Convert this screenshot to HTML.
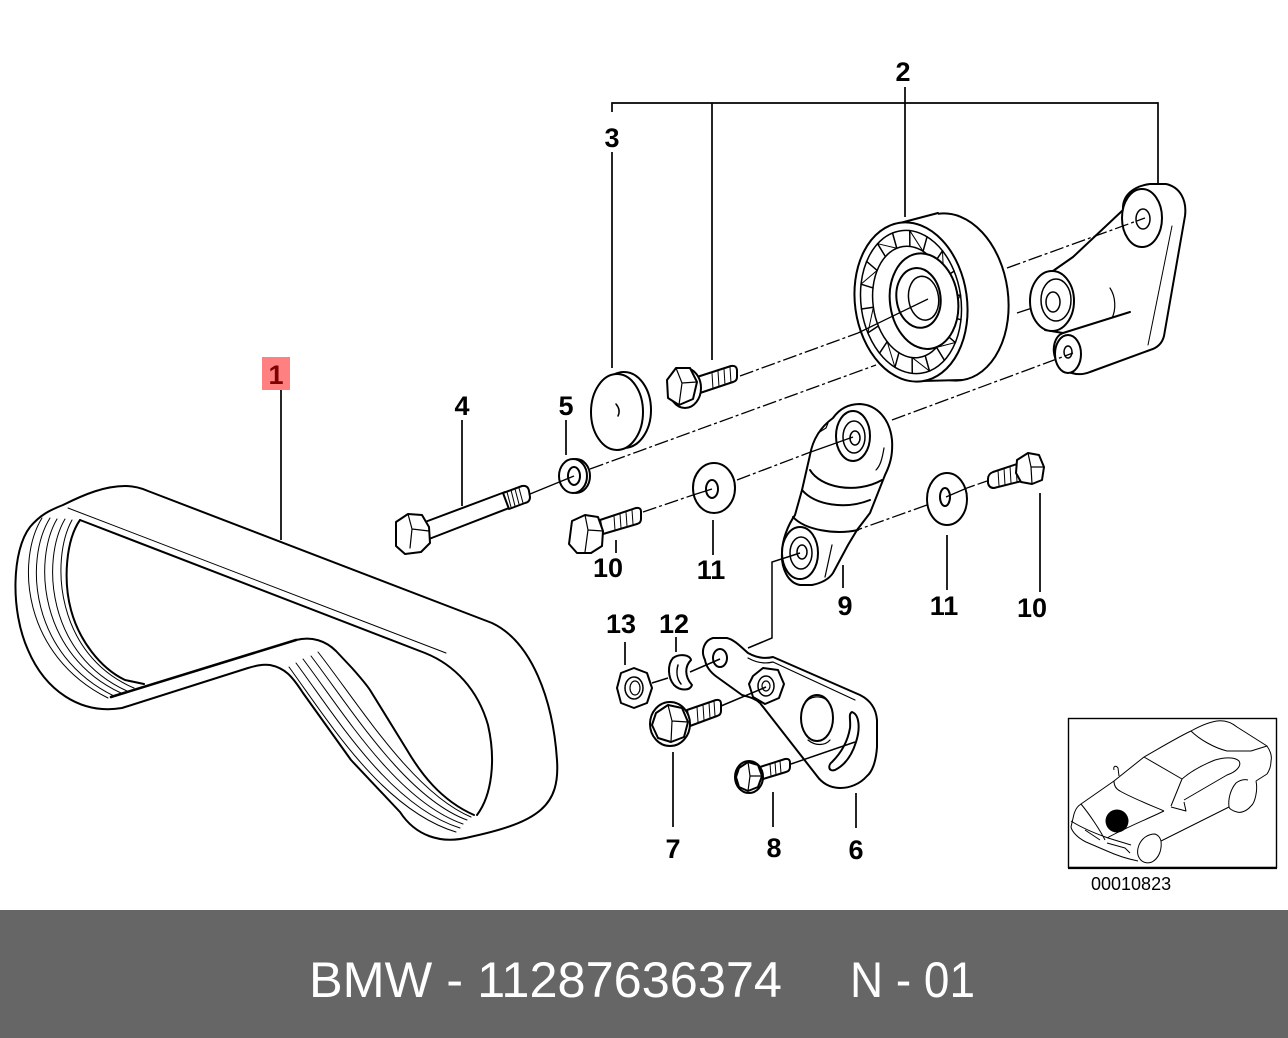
<!DOCTYPE html>
<html><head><meta charset="utf-8">
<style>
html,body{margin:0;padding:0;background:#fff;}
body{width:1288px;height:1038px;position:relative;overflow:hidden;}
svg{position:absolute;left:0;top:0;}
</style></head>
<body>
<svg width="1288" height="1038" viewBox="0 0 1288 1038" xmlns="http://www.w3.org/2000/svg">
<rect x="0" y="0" width="1288" height="910" fill="#fff"/>

<!-- ===== leader lines ===== -->
<g fill="none" stroke="#000" stroke-width="1.7">
  <path d="M612,112 V103 H1158 V183 M712,103 V360 M905,87 V217 M612,152 V368"/>
  <path d="M281,390 V540"/>
  <path d="M462,420 V506 M566,420 V455"/>
  <path d="M616,540 V553 M713,520 V555 M843,565 V588 M947,535 V590 M1040,493 V592"/>
  <path d="M625,642 V665 M676,637 V652 M673,752 V827 M773,792 V827 M856,793 V828"/>
</g>

<!-- ===== axis (dash-dot) lines behind parts ===== -->
<g fill="none" stroke="#000" stroke-width="1.3" stroke-dasharray="14 3 3 3">
  <path d="M590,469 L876,365"/>
  <path d="M1017,313 L1050,302"/>
  <path d="M927,505 L857,530"/>
</g>

<!-- ===== Belt (1) ===== -->
<g fill="#fff" stroke="#000" stroke-width="2" stroke-linejoin="round" stroke-linecap="round">
  <path d="M63,505 C85,494 105,486 125,486 C134,486 141,488 148,491 L492,623 C532,642 553,700 557,760 C560,805 540,822 470,837 C440,845 415,835 400,812 L351,760 L303,693 C292,676 285,668 270,665 C262,664 255,666 248,668 L122,708 C80,715 45,690 28,650 C10,610 12,550 30,527 C40,515 50,510 63,505 Z"/>
  <path fill="none" d="M80,520 L425,653 C455,665 478,690 488,725 C496,760 492,795 477,815"/>
  <path fill="none" stroke-width="1" d="M68,508 L446,653"/>
  <path fill="none" d="M80,520 C66,540 63,580 71,610 C79,640 100,668 125,680 L144,684"/>
  <path fill="none" stroke-width="2.6" d="M111,697 L296,640"/>
  <path fill="none" d="M296,640 C312,636 326,641 336,651 L352,668 C360,677 366,684 370,690 L407,750 C420,772 440,800 474,815"/>
  <g fill="none" stroke-width="1">
    <path d="M42,518 C16,560 22,655 108,698"/>
    <path d="M50,518 C24,560 30,655 114,696"/>
    <path d="M57,519 C33,560 39,655 121,693"/>
    <path d="M65,519 C41,560 47,655 127,691"/>
    <path d="M72,520 C50,560 56,655 134,688"/>
    <path d="M289,667 C329,722 383,810 456,832"/>
    <path d="M296,663 C336,717 390,806 460,828"/>
    <path d="M303,659 C343,712 397,801 463,824"/>
    <path d="M311,656 C350,707 405,797 467,820"/>
    <path d="M318,652 C358,703 413,793 471,817"/>
  </g>
</g>

<!-- ===== Parts ===== -->
<g fill="#fff" stroke="#000" stroke-width="2" stroke-linejoin="round" stroke-linecap="round">

  <!-- bolt 4 -->
  <path d="M425,522 L505,492 L509,508 L429,539 Z"/>
  <path d="M503,493 L522,486 Q528,485 529,491 L530,497 Q530,502 525,503 L509,509 Z"/>
  <path fill="none" stroke-width="1" d="M507,492 L511,507 M511,490 L515,506 M515,489 L519,504 M519,488 L523,503"/>
  <path d="M396,522 L408,514 L422,515 L429,527 L430,543 L421,552 L405,554 L396,546 Z"/>
  <path fill="none" stroke-width="1.2" d="M408,514 L412,529 L429,531 M412,529 L410,548"/>

  <!-- washer 5 -->
  <ellipse cx="576" cy="476" rx="14" ry="17"/>
  <ellipse cx="573" cy="476" rx="14" ry="17"/>
  <ellipse cx="574" cy="476" rx="6" ry="9"/>

  <!-- cap 3 -->
  <ellipse cx="624" cy="410" rx="27" ry="38"/>
  <ellipse cx="617" cy="412" rx="26" ry="38"/>
  <path fill="none" stroke-width="1.5" d="M616,404 Q621,410 618,416"/>

  <!-- bolt (2) -->
  <path d="M697,377 L731,366 Q737,365 737,371 L737,377 Q737,381 733,382 L700,393 Z"/>
  <path fill="none" stroke-width="1" d="M712,373 L713,389 M718,371 L719,387 M724,369 L725,385 M730,367 L731,383"/>
  <ellipse cx="685" cy="388" rx="16" ry="20"/>
  <path d="M667,380 L676,368 L690,368 L697,382 L693,399 L679,405 L668,398 Z"/>
  <path fill="none" stroke-width="1.2" d="M676,368 L682,383 L697,382 M682,383 L679,405"/>

  <!-- pulley 2 -->
  <ellipse cx="950" cy="297" rx="58" ry="84" transform="rotate(-8 950 297)"/>
  <path stroke="none" d="M900,223 L938,214 L962,380 L922,381 Z"/>
  <path fill="none" d="M900,223 L938,213 M922,381 L962,380"/>
  <ellipse cx="911" cy="302" rx="56" ry="80" transform="rotate(-8 911 302)"/>
  <g transform="translate(911 302) rotate(-8)" stroke-width="1.5">
    <ellipse cx="0" cy="0" rx="50" ry="72" fill="none"/>
    <ellipse cx="0" cy="0" rx="38" ry="56" fill="none"/>
    <path fill="none" d="M38,0 L50,0 M35.7,19.2 L47,24.6 M29.1,36 L38.3,46.3 M19,48.5 L25,62.4 M6.6,55.2 L8.7,70.9 M-6.6,55.2 L-8.7,70.9 M-19,48.5 L-25,62.4 M-29.1,36 L-38.3,46.3 M-35.7,19.2 L-47,24.6 M-38,0 L-50,0 M-35.7,-19.2 L-47,-24.6 M-29.1,-36 L-38.3,-46.3 M-19,-48.5 L-25,-62.4 M-6.6,-55.2 L-8.7,-70.9 M6.6,-55.2 L8.7,-70.9 M19,-48.5 L25,-62.4 M29.1,-36 L38.3,-46.3 M35.7,-19.2 L47,-24.6"/>
    <path fill="none" stroke-width="1" d="M35.7,19.2 L50,0 M19,48.5 L38.3,46.3 M-6.6,55.2 L8.7,70.9 M-29.1,36 L-25,62.4 M-38,0 L-47,24.6 M-29.1,-36 L-47,-24.6 M-6.6,-55.2 L-25,-62.4 M19,-48.5 L8.7,-70.9 M35.7,-19.2 L38.3,-46.3"/>
    <ellipse cx="13" cy="1" rx="34" ry="48" stroke-width="2"/>
    <ellipse cx="8" cy="-3" rx="22" ry="30" fill="none" stroke-width="2"/>
    <ellipse cx="13" cy="-2" rx="15" ry="22" fill="none"/>
  </g>

  <!-- bracket (2) -->
  <path d="M1123,210 C1122,195 1134,186 1150,184 L1166,184 C1180,187 1187,200 1185,216 L1164,336 C1162,344 1157,348 1150,350 L1090,372 C1078,377 1062,373 1056,360 C1051,348 1055,336 1063,333 L1045,330 L1040,280 L1073,257 Z"/>
  <path fill="none" stroke-width="1" d="M1172,226 L1148,345"/>
  <path fill="none" d="M1063,333 L1130,312"/>
  <ellipse cx="1052" cy="301" rx="22" ry="30"/>
  <ellipse cx="1056" cy="300" rx="15" ry="21" fill="none" stroke-width="1.5"/>
  <ellipse cx="1053" cy="302" rx="7" ry="10" fill="none" stroke-width="1.5"/>
  <path fill="none" stroke-width="1.2" d="M1110,288 C1116,297 1116,310 1112,318"/>
  <ellipse cx="1068" cy="354" rx="13" ry="19"/>
  <ellipse cx="1068" cy="352" rx="4" ry="6" fill="none" stroke-width="1.5"/>
  <ellipse cx="1142" cy="218" rx="20" ry="29"/>
  <ellipse cx="1143" cy="219" rx="7" ry="10" fill="none" stroke-width="1.5"/>

  <!-- tensioner 9 -->
  <path d="M810,455 C813,438 822,426 833,418 C840,408 850,404 860,404 C878,405 890,420 892,440 C893,455 890,465 885,475 L870,513 L857,530 L848,545 L833,573 C829,579 822,583 812,585 L800,585 C788,583 781,568 782,553 C782,540 788,525 795,515 L802,490 Z"/>
  <path fill="none" d="M810,470 C820,487 855,495 882,480 M802,490 C815,505 845,510 870,500 M793,517 C805,530 835,535 858,530"/>
  <path fill="none" stroke-width="1.2" d="M832,545 L825,577 M818,433 L826,428 L828,423 M884,448 C882,460 880,466 876,470"/>
  <ellipse cx="853" cy="436" rx="17" ry="25"/>
  <ellipse cx="854" cy="437" rx="11" ry="16" fill="none" stroke-width="1.5"/>
  <ellipse cx="855" cy="438" rx="5" ry="7" fill="none" stroke-width="1.5"/>
  <ellipse cx="800" cy="553" rx="18" ry="26"/>
  <ellipse cx="801" cy="553" rx="11" ry="16" fill="none" stroke-width="1.5"/>
  <ellipse cx="802" cy="552" rx="5" ry="7" fill="none" stroke-width="1.5"/>

  <!-- washer 11 left -->
  <ellipse cx="714" cy="488" rx="21" ry="25"/>
  <ellipse cx="712" cy="489" rx="6" ry="9"/>
  <!-- washer 11 right -->
  <ellipse cx="947" cy="499" rx="20" ry="26"/>
  <ellipse cx="945" cy="497" rx="5" ry="9"/>

  <!-- bolt 10 left -->
  <path d="M600,520 L636,508 Q641,507 641,512 L641,519 Q641,523 637,524 L603,534 Z"/>
  <path fill="none" stroke-width="1" d="M614,516 L615,530 M620,514 L621,528 M626,512 L627,526 M632,510 L633,524"/>
  <path d="M572,521 L585,515 L598,517 L603,531 L602,546 L591,553 L577,553 L569,544 Z"/>
  <path fill="none" stroke-width="1.2" d="M585,515 L588,530 L603,531 M588,530 L585,552"/>

  <!-- bolt 10 right -->
  <path d="M1020,463 L993,472 Q988,474 988,479 L988,483 Q989,488 994,488 L1022,481 Z"/>
  <path fill="none" stroke-width="1" d="M998,470 L999,486 M1004,468 L1005,485 M1010,466 L1011,483 M1016,464 L1017,482"/>
  <path d="M1017,460 L1028,453 L1039,455 L1044,467 L1042,480 L1032,484 L1021,482 L1016,473 Z"/>
  <path fill="none" stroke-width="1.2" d="M1028,453 L1031,467 L1044,467 M1031,467 L1032,484"/>

  <!-- bracket 6 -->
  <path d="M705,660 C700,650 705,640 713,638 L727,638 C735,640 742,648 748,653 C757,658 765,659 773,657 L860,695 C870,700 876,708 877,720 L877,747 C876,762 872,772 867,776 C860,784 850,788 840,788 C830,788 822,783 817,776 L760,703 C755,698 748,697 742,695 L717,677 C710,672 706,666 705,660 Z"/>
  <path fill="none" stroke-width="1.2" d="M748,658 C757,663 765,664 773,662 L855,700"/>
  <ellipse cx="720" cy="658" rx="7" ry="9"/>
  <ellipse cx="817" cy="718" rx="16" ry="23"/>
  <path fill="none" stroke-width="1.2" d="M805,703 C810,696 820,695 827,700 M808,740 C815,746 825,746 830,740"/>
  <path d="M852,712 C860,715 860,730 856,742 C852,755 845,765 835,770 C828,772 828,765 832,762 C842,752 848,740 850,728 C851,720 848,714 852,712 Z"/>
  <!-- nut on bracket -->
  <path d="M753,676 L763,668 L778,670 L784,684 L779,698 L765,704 L753,697 L749,684 Z"/>
  <ellipse cx="766" cy="686" rx="8" ry="10" fill="none" stroke-width="1.5"/>
  <ellipse cx="766" cy="686" rx="4" ry="5" fill="none" stroke-width="1.2"/>

  <!-- nut 13 -->
  <path d="M621,673 L634,668 L647,673 L652,688 L647,703 L634,708 L621,703 L617,688 Z"/>
  <ellipse cx="634" cy="688" rx="9" ry="11" fill="none" stroke-width="1.5"/>
  <ellipse cx="635" cy="688" rx="5" ry="7" fill="none" stroke-width="1.2"/>

  <!-- washer 12 -->
  <path d="M673,658 C680,653 690,655 691,660 C685,666 684,676 692,685 C690,691 680,691 674,685 C668,678 667,665 673,658 Z"/>
  <path fill="none" stroke-width="1.5" d="M678,665 C676,672 677,679 681,684"/>

  <!-- bolt 7 -->
  <path d="M687,710 L716,700 Q721,699 721,704 L721,711 Q721,715 717,716 L690,726 Z"/>
  <path fill="none" stroke-width="1" d="M697,707 L698,722 M703,705 L704,720 M709,703 L710,718 M714,701 L715,716"/>
  <ellipse cx="670" cy="724" rx="20" ry="22"/>
  <path d="M656,713 L668,705 L682,708 L688,722 L684,737 L671,742 L658,738 L652,725 Z"/>
  <path fill="none" stroke-width="1.2" d="M668,705 L672,721 L688,722 M672,721 L671,742"/>

  <!-- bolt 8 -->
  <path d="M760,767 L785,759 Q790,758 790,763 L790,767 Q790,771 786,772 L763,779 Z"/>
  <path fill="none" stroke-width="1" d="M770,764 L771,776 M775,762 L776,775 M780,761 L781,773"/>
  <ellipse cx="749" cy="777" rx="14" ry="16"/>
  <path d="M739,768 L748,762 L758,765 L762,776 L758,787 L748,791 L739,787 L736,777 Z"/>
  <path fill="none" stroke-width="1.2" d="M748,762 L750,776 L762,776 M750,776 L748,791"/>
</g>

<!-- ===== axis lines on top ===== -->
<g fill="none" stroke="#000" stroke-width="1.3">
  <path stroke-dasharray="14 3 3 3" d="M740,376 L858,333"/>
  <path d="M858,333 L928,299"/>
  <path stroke-dasharray="14 3 3 3" d="M1007,268 L1145,218"/>
  <path stroke-dasharray="14 3 3 3" d="M892,420 L1073,353"/>
  <path stroke-dasharray="14 3 3 3" d="M737,480 L808,453"/>
  <path d="M808,453 L853,437"/>
  <path stroke-dasharray="14 3 3 3" d="M643,512 L693,495"/>
  <path d="M693,495 L712,489"/>
  <path stroke-dasharray="10 3" d="M987,481 L967,488"/>
  <path d="M967,488 L946,497"/>
  <path d="M530,494 L574,476"/>
  <path stroke-width="1.5" d="M800,553 L772,562 V638 L748,648"/>
  <path stroke-width="1.5" d="M652,683 L668,678 M690,672 L720,659 M721,706 L766,687 M791,764 L855,742"/>
</g>

<!-- ===== labels ===== -->
<rect x="262" y="357" width="28" height="33" fill="#ff8080"/>
<g font-family="'Liberation Sans', Arial, sans-serif" font-weight="bold" font-size="27" text-anchor="middle" fill="#000">
  <text x="276" y="384" fill="#800000">1</text>
  <text x="903" y="81">2</text>
  <text x="612" y="147">3</text>
  <text x="462" y="415">4</text>
  <text x="566" y="415">5</text>
  <text x="608" y="577">10</text>
  <text x="711" y="579">11</text>
  <text x="845" y="615">9</text>
  <text x="944" y="615">11</text>
  <text x="1032" y="617">10</text>
  <text x="621" y="633">13</text>
  <text x="674" y="633">12</text>
  <text x="673" y="858">7</text>
  <text x="774" y="857">8</text>
  <text x="856" y="859">6</text>
</g>

<!-- ===== inset ===== -->
<rect x="1068.5" y="718.5" width="208" height="149" fill="#fff" stroke="#000" stroke-width="1.4"/>
<path d="M1068,868 H1277" stroke="#000" stroke-width="2.2"/>
<g fill="none" stroke="#000" stroke-width="1" stroke-linejoin="round">
  <path d="M1071,827 L1074,814 C1076,808 1078,806 1081,804 L1114,781 L1144,757 C1165,745 1180,736 1191,731 C1200,726 1210,722 1217,721 C1225,720 1232,723 1237,727 L1267,746 C1271,752 1272,757 1271,761 C1271,767 1269,771 1267,774 L1256,781"/>
  <path d="M1256,781 C1258,790 1255,803 1251,806 C1246,812 1240,813 1237,812 C1232,811 1229,808 1229,807 C1228,800 1230,790 1236,783 C1240,780 1244,779 1248,780"/>
  <path d="M1229,807 L1161,841"/>
  <path d="M1161,841 C1162,850 1159,858 1152,862 C1147,864 1142,862 1140,859 C1137,855 1137,850 1139,845 C1142,838 1148,834 1155,834 C1158,835 1160,837 1161,841"/>
  <path d="M1071,827 C1072,832 1078,838 1086,842 L1107,851 C1118,856 1128,859 1138,861"/>
  <path d="M1114,781 C1114,786 1116,789 1120,791 C1130,797 1150,805 1164,811"/>
  <path d="M1144,757 L1182,779 L1171,806 M1171,807 L1186,811 L1184,802"/>
  <path d="M1182,779 C1190,772 1200,766 1215,760 C1225,757 1235,757 1239,761 C1242,766 1236,772 1227,775 L1184,800"/>
  <path d="M1191,731 C1200,740 1215,748 1227,751 L1251,751 L1267,746"/>
  <path d="M1071,821 C1085,830 1100,835 1108,838 L1131,845 M1081,804 C1090,815 1100,830 1105,840 M1164,811 C1145,820 1125,828 1107,838"/>
  <path d="M1085,830 L1100,840 M1107,843 L1125,848 L1130,853"/>
  <path d="M1114,770 C1113,766 1116,765 1118,768 L1119,776"/>
</g>
<circle cx="1117" cy="821" r="11.5" fill="#000"/>
<text x="1091" y="890" font-family="'Liberation Sans', Arial, sans-serif" font-size="18" fill="#000">00010823</text>

<!-- ===== bottom bar ===== -->
<rect x="0" y="910" width="1288" height="128" fill="#666666"/>
<g font-family="'Liberation Sans', Arial, sans-serif" font-size="50" fill="#fff">
  <text x="309" y="997" textLength="473" lengthAdjust="spacingAndGlyphs">BMW - 11287636374</text>
  <text x="850" y="997" textLength="125" lengthAdjust="spacingAndGlyphs">N - 01</text>
</g>
</svg>
</body></html>
